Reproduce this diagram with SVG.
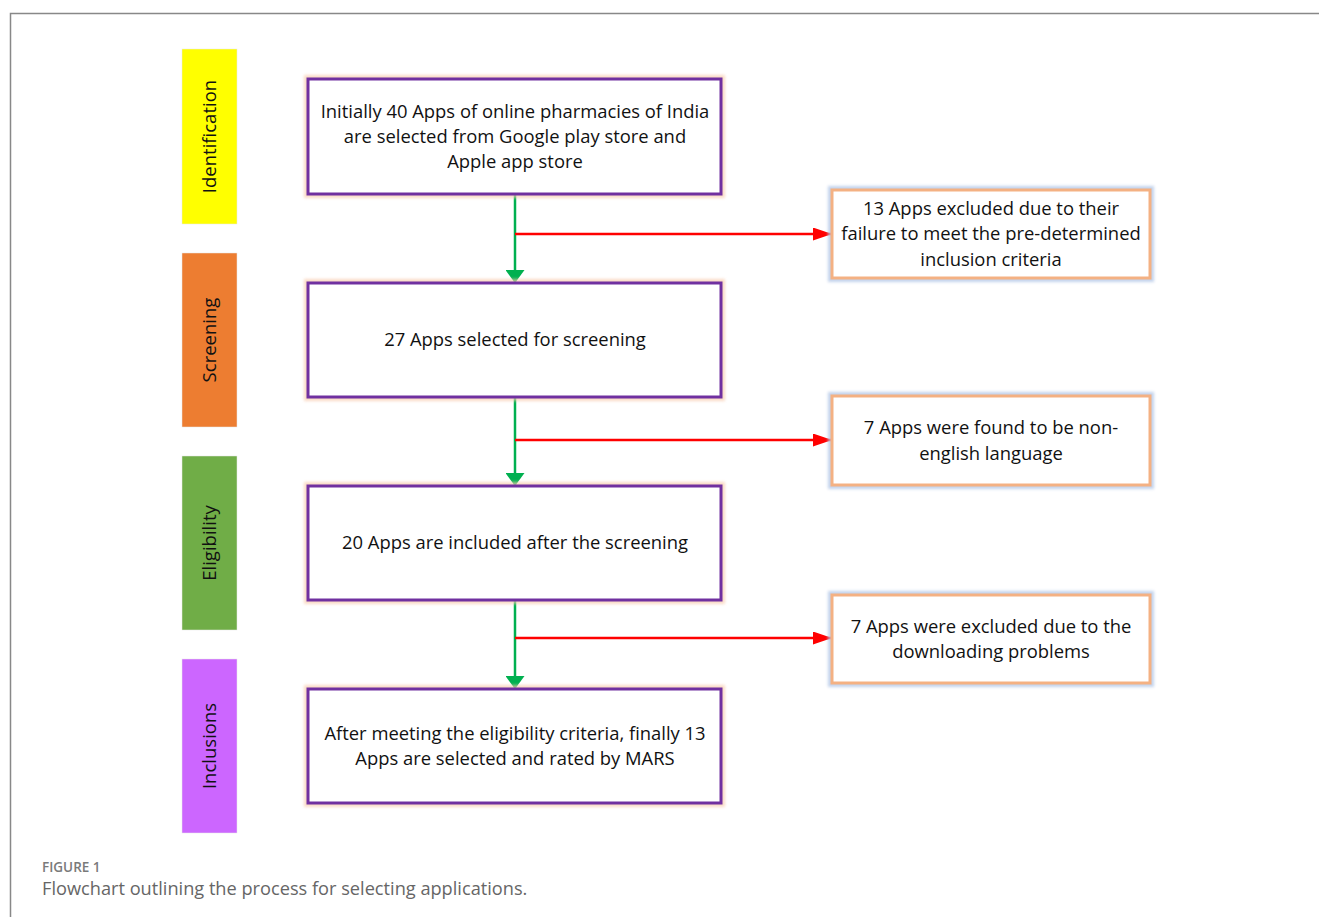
<svg xmlns="http://www.w3.org/2000/svg" width="1319" height="917" viewBox="0 0 1319 917">
<style>
.t{font-family:"Open Sans","Liberation Sans",sans-serif;font-size:18.4px;fill:#111;text-anchor:middle}
.side{font-family:"Open Sans","Liberation Sans",sans-serif;font-size:18.5px;fill:#111;text-anchor:middle}
.main{fill:#fff;stroke:#7030A0;stroke-width:3}
.mglow{fill:none;stroke:#F8CBAD;stroke-width:8;opacity:0.7;filter:url(#blur)}
.ex{fill:#fff;stroke:#F4B183;stroke-width:3}
.eglow{fill:none;stroke:#B4C7E7;stroke-width:8;opacity:0.8;filter:url(#blur)}
.g{stroke:#00B050;stroke-width:2.5;fill:none}
.r{stroke:#FF0000;stroke-width:2.5;fill:none}
</style>
<defs>
<filter id="blur" x="-10%" y="-10%" width="120%" height="120%"><feGaussianBlur stdDeviation="1.5"/></filter>
<marker id="ag" viewBox="0 0 13 19" refX="13" refY="9.5" markerWidth="13" markerHeight="19" markerUnits="userSpaceOnUse" orient="auto"><path d="M0,0 L13,9.5 L0,19 z" fill="#00B050"/></marker>
<marker id="ar" viewBox="0 0 19 13" refX="19" refY="6.5" markerWidth="19" markerHeight="13" markerUnits="userSpaceOnUse" orient="auto"><path d="M0,0 L19,6.5 L0,13 z" fill="#FF0000"/></marker>
</defs>
<rect width="1319" height="917" fill="#fff"/>
<path d="M10.5,917 V13.5 H1319" fill="none" stroke="#888" stroke-width="1.5"/>

<g id="side-identification"><rect x="182" y="49" width="55" height="175" fill="#FFFF00" stroke="#e8e8e8" stroke-width="0.5"/><text class="side" transform="translate(216,136.5) rotate(-90)">Identification</text></g>
<g id="side-screening"><rect x="182" y="253" width="55" height="174" fill="#ED7D31" stroke="#e8e8e8" stroke-width="0.5"/><text class="side" transform="translate(216,340) rotate(-90)">Screening</text></g>
<g id="side-eligibility"><rect x="182" y="456" width="55" height="174" fill="#70AD47" stroke="#e8e8e8" stroke-width="0.5"/><text class="side" transform="translate(216,543) rotate(-90)">Eligibility</text></g>
<g id="side-inclusions"><rect x="182" y="659" width="55" height="174" fill="#CC66FF" stroke="#e8e8e8" stroke-width="0.5"/><text class="side" transform="translate(216,746) rotate(-90)">Inclusions</text></g>

<g id="connectors">
<line class="g" x1="515" y1="194" x2="515" y2="283" marker-end="url(#ag)"/>
<line class="r" x1="515" y1="234" x2="832" y2="234" marker-end="url(#ar)"/>
<line class="g" x1="515" y1="397" x2="515" y2="486" marker-end="url(#ag)"/>
<line class="r" x1="515" y1="440" x2="832" y2="440" marker-end="url(#ar)"/>
<line class="g" x1="515" y1="600" x2="515" y2="689" marker-end="url(#ag)"/>
<line class="r" x1="515" y1="638" x2="832" y2="638" marker-end="url(#ar)"/>
</g>

<g id="box1"><rect class="mglow" x="308" y="79" width="413" height="115"/><rect class="main" x="308" y="79" width="413" height="115"/>
<text class="t" x="515" y="118">Initially 40 Apps of online pharmacies of India</text>
<text class="t" x="515" y="143">are selected from Google play store and</text>
<text class="t" x="515" y="168">Apple app store</text></g>

<g id="box2"><rect class="mglow" x="308" y="283" width="413" height="114"/><rect class="main" x="308" y="283" width="413" height="114"/>
<text class="t" x="515" y="346">27 Apps selected for screening</text></g>

<g id="box3"><rect class="mglow" x="308" y="486" width="413" height="114"/><rect class="main" x="308" y="486" width="413" height="114"/>
<text class="t" x="515" y="549">20 Apps are included after the screening</text></g>

<g id="box4"><rect class="mglow" x="308" y="689" width="413" height="114"/><rect class="main" x="308" y="689" width="413" height="114"/>
<text class="t" x="515" y="740">After meeting the eligibility criteria, finally 13</text>
<text class="t" x="515" y="765">Apps are selected and rated by MARS</text></g>

<g id="exclA"><rect class="eglow" x="832" y="190" width="318" height="88"/><rect class="ex" x="832" y="190" width="318" height="88"/>
<text class="t" x="991" y="215">13 Apps excluded due to their</text>
<text class="t" x="991" y="240">failure to meet the pre-determined</text>
<text class="t" x="991" y="266">inclusion criteria</text></g>

<g id="exclB"><rect class="eglow" x="832" y="396" width="318" height="89"/><rect class="ex" x="832" y="396" width="318" height="89"/>
<text class="t" x="991" y="434">7 Apps were found to be non-</text>
<text class="t" x="991" y="460">english language</text></g>

<g id="exclC"><rect class="eglow" x="832" y="595" width="318" height="88"/><rect class="ex" x="832" y="595" width="318" height="88"/>
<text class="t" x="991" y="633">7 Apps were excluded due to the</text>
<text class="t" x="991" y="658">downloading problems</text></g>

<g id="caption">
<text x="42" y="872" font-family="'Open Sans','Liberation Sans',sans-serif" font-size="13.5" font-weight="600" fill="#7a7a7a">FIGURE 1</text>
<text x="42" y="895" font-family="'Open Sans','Liberation Sans',sans-serif" font-size="18.2" fill="#666">Flowchart outlining the process for selecting applications.</text>
</g>
</svg>
